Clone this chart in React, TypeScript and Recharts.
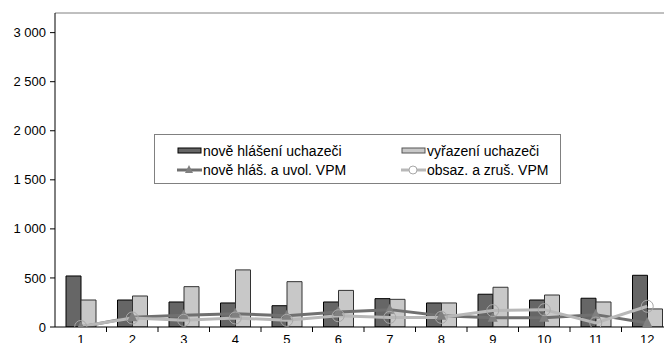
import {
  ComposedChart,
  Bar,
  Line,
  XAxis,
  YAxis,
  Legend,
  ReferenceLine,
} from 'recharts';

const months = ['1', '2', '3', '4', '5', '6', '7', '8', '9', '10', '11', '12'];
const noveHlaseni = [520, 275, 255, 245, 217, 255, 289, 245, 334, 275, 293, 527];
const vyrazeni = [275, 316, 411, 582, 462, 373, 282, 245, 405, 326, 255, 184];
const noveVpm = [0, 100, 119, 136, 115, 152, 177, 115, 95, 95, 126, 40];
const obsazVpm = [5, 92, 68, 92, 68, 115, 98, 98, 167, 177, 41, 211];
const yTicks = [0, 500, 1000, 1500, 2000, 2500, 3000];

const data = months.map((m, i) => ({
  month: m,
  noveHlaseni: noveHlaseni[i],
  vyrazeni: vyrazeni[i],
  noveVpm: noveVpm[i],
  obsazVpm: obsazVpm[i],
}));

const CHART_W = 680;
const CHART_H = 350;
const MARGIN = { top: 13, right: 7, left: 8, bottom: 0 };
const Y_W = 47;
const BAND = (CHART_W - MARGIN.left - MARGIN.right - Y_W) / months.length;
const FONT = '"Liberation Sans", Arial, sans-serif';

function XTick(props: any) {
  const { x, y, payload } = props;
  return (
    <g>
      <line x1={x + BAND / 2} x2={x + BAND / 2} y1={y - 8} y2={y - 3} stroke="#000" />
      <text x={x} y={y} dy="0.71em" textAnchor="middle" fontSize={13} fill="#000" fontFamily={FONT}>
        {payload.value}
      </text>
    </g>
  );
}

function Triangle(props: any) {
  const { cx, cy } = props;
  if (cx == null || cy == null) return null;
  return (
    <polygon
      points={`${cx},${cy - 6} ${cx - 5},${cy + 4} ${cx + 5},${cy + 4}`}
      fill="#808080"
    />
  );
}

function Ring(props: any) {
  const { cx, cy } = props;
  if (cx == null || cy == null) return null;
  return <circle cx={cx} cy={cy} r={6} fill="none" stroke="#a8a8a8" strokeWidth={1} />;
}

function LegendBox() {
  const item = (swatch: any, label: string, left: number, top: number) => (
    <div style={{ position: 'absolute', left, top, display: 'flex', alignItems: 'center', height: 16 }}>
      <svg width={25} height={12} style={{ display: 'block' }}>{swatch}</svg>
      <span style={{ fontSize: 14, marginLeft: 1, whiteSpace: 'nowrap', lineHeight: '16px' }}>{label}</span>
    </div>
  );
  return (
    <div
      style={{
        position: 'relative',
        width: 407,
        height: 50,
        border: '1px solid #808080',
        background: '#fff',
        fontFamily: FONT,
        color: '#000',
        boxSizing: 'border-box',
      }}
    >
      {item(<rect x={1} y={3} width={23} height={5} fill="#666" stroke="#000" />, 'nově hlášení uchazeči', 22, 8)}
      {item(<rect x={1} y={3} width={23} height={5} fill="#c8c8c8" stroke="#555" />, 'vyřazení uchazeči', 246, 8)}
      {item(
        <g>
          <line x1={0} x2={25} y1={6} y2={6} stroke="#707070" strokeWidth={3} />
          <polygon points="12,1 8,9 16,9" fill="#808080" />
        </g>,
        'nově hláš. a uvol. VPM',
        22,
        27
      )}
      {item(
        <g>
          <line x1={0} x2={25} y1={6} y2={6} stroke="#b8b8b8" strokeWidth={3} />
          <circle cx={12} cy={6} r={4} fill="#fff" stroke="#a8a8a8" />
        </g>,
        'obsaz. a zruš. VPM',
        246,
        27
      )}
    </div>
  );
}

export default function App() {
  return (
    <div style={{ position: 'fixed', left: 0, top: 0, width: 664, height: 343, overflow: 'hidden', background: '#fff' }}>
      <ComposedChart width={CHART_W} height={CHART_H} data={data} margin={MARGIN} barGap={0} barSize={15}>
        <XAxis
          dataKey="month"
          height={23}
          axisLine={{ stroke: '#000' }}
          tickLine={false}
          tick={<XTick />}
          interval={0}
        />
        <YAxis
          width={Y_W}
          domain={[0, 3200]}
          ticks={yTicks}
          allowDataOverflow
          axisLine={{ stroke: '#000' }}
          tickLine={{ stroke: '#000' }}
          tickSize={5}
          tickMargin={4}
          tick={{ fontSize: 13, fill: '#000', fontFamily: FONT }}
          tickFormatter={(v: number) => v.toLocaleString('en-US').replace(/,/g, ' ')}
        />
        <ReferenceLine y={3200} stroke="#808080" />
        <Bar dataKey="noveHlaseni" fill="#666666" stroke="#000" strokeWidth={1} isAnimationActive={false} />
        <Bar dataKey="vyrazeni" fill="#c8c8c8" stroke="#333" strokeWidth={1} isAnimationActive={false} />
        <Line
          dataKey="noveVpm"
          stroke="#707070"
          strokeWidth={3}
          dot={<Triangle />}
          activeDot={false}
          isAnimationActive={false}
        />
        <Line
          dataKey="obsazVpm"
          stroke="#b8b8b8"
          strokeWidth={3}
          dot={<Ring />}
          activeDot={false}
          isAnimationActive={false}
        />
        <Legend
          layout="horizontal"
          verticalAlign="middle"
          align="center"
          content={() => <LegendBox />}
          wrapperStyle={{ position: 'absolute', left: 154, top: 134, width: 407, height: 50, bottom: 'auto' }}
        />
      </ComposedChart>
    </div>
  );
}
